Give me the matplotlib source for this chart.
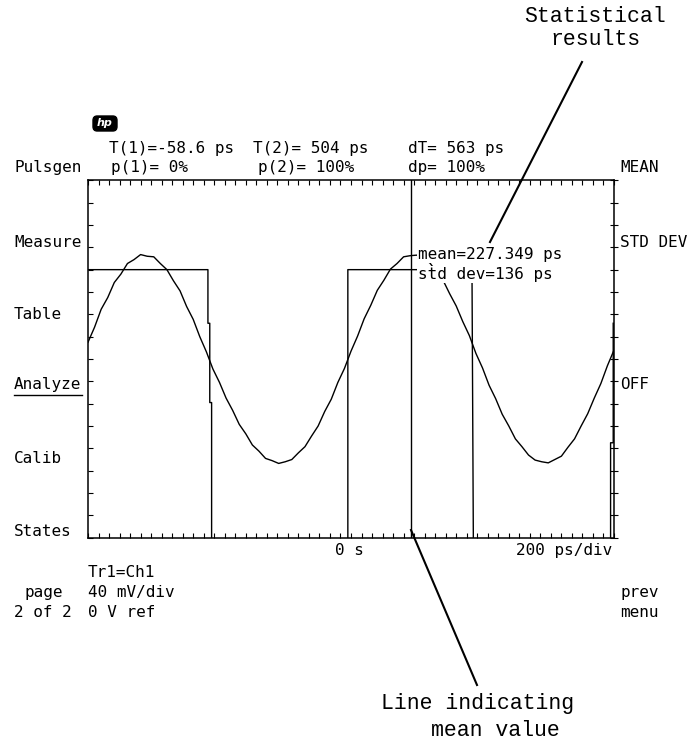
"""HP scope screen: clock waveform with histogram mean / std dev readout."""
import numpy as np
import matplotlib
matplotlib.use("Agg")
import matplotlib.pyplot as plt
from matplotlib.lines import Line2D
from matplotlib.patches import FancyBboxPatch

# ============ DATA ============
# time axis in ps (200 ps/div, 10 div), vertical in mV (40 mV/div, 8 div)
x_range = (-1000, 1000)
y_range = (-160, 160)

sine_t = np.arange(-1000, 1001, 25)
sine_mv = [
    15.0, 28.5, 44.5, 55.0, 68.5, 76.0, 85.5, 89.0, 93.5,
    92.0, 91.5, 85.5, 80.0, 70.0, 61.0, 47.0, 35.5, 20.0, 6.5,
    -9.0, -21.0, -35.0, -46.0, -58.5, -67.0, -77.0, -82.5, -89.0, -91.0, -93.5,
    -92.0, -90.0, -84.0, -78.5, -69.0, -60.0, -47.0, -36.0, -21.0, -8.5, 7.0,
    20.5, 36.0, 48.0, 61.5, 70.5, 80.5, 85.5, 91.5, 92.5,
    93.0, 89.5, 86.0, 78.0, 70.5, 58.5, 47.5, 33.5, 21.0, 5.0,
    -8.0, -23.5, -35.5, -49.5, -60.0, -71.5, -78.5, -86.0, -90.5, -92.0,
    -93.0, -90.0, -87.0, -79.0, -71.5, -60.0, -49.0, -35.0, -22.0, -6.0, 8.0,
]

# pulse trace (low level is below the screen)
pulse_t = [-1000, -544, -544, -537, -537, -530, -530, -12, -12, 460, 466, 987, 987, 997, 997]
pulse_mv = [80, 80, 32, 32, -39, -39, -200, -200, 80, 80, -200, -200, -75, -75, 32]

mean_ps = 227.349
std_ps = 136

top_row1 = [("T(1)=-58.6 ps", 109), ("T(2)= 504 ps", 253), ("dT= 563 ps", 408)]
top_row2 = [("p(1)= 0%", 111), ("p(2)= 100%", 258), ("dp= 100%", 408)]
left_menu = ["Pulsgen", "Measure", "Table", "Analyze", "Calib", "States"]
left_menu_y = [172, 247, 319, 389, 463, 536]
right_menu = ["MEAN", "STD DEV", "OFF"]
right_menu_y = [172, 247, 389]

W, H = 688, 744
MONO = "DejaVu Sans Mono"


def fx(x):
    return x / W


def fy(y):
    return 1 - y / H


def screen_text(x, y, s, ha="left", **kw):
    fig.text(fx(x), fy(y), s, ha=ha, va="baseline", family=MONO,
             fontsize=11.5, color="black", **kw)


fig = plt.figure(figsize=(W / 100, H / 100), dpi=100, facecolor="white")

# ============ SCREEN GRATICULE ============
ax = fig.add_axes([fx(88), fy(537.7), 526 / W, 357.4 / H])
ax.set_xlim(*x_range)
ax.set_ylim(*y_range)
ax.plot(sine_t, sine_mv, color="black", lw=1.0)
ax.plot(pulse_t, pulse_mv, color="black", lw=1.0)
ax.axvline(mean_ps, color="black", lw=1.0)

for sp in ax.spines.values():
    sp.set_linewidth(1.1)
ax.set_xticks(np.arange(-1000, 1001, 40))
ax.set_yticks(np.arange(-160, 161, 20))
ax.tick_params(axis="x", which="both", direction="in", top=True, bottom=True,
               length=3.6, width=0.8, labelbottom=False)
ax.tick_params(axis="y", which="both", direction="in", left=True, right=False,
               length=3.6, width=0.8, labelleft=False)
axr = ax.twinx()
axr.set_ylim(*y_range)
axr.set_yticks(np.arange(-160, 161, 20))
axr.tick_params(axis="y", direction="inout", length=6, width=0.8, labelright=False)
for sp in axr.spines.values():
    sp.set_visible(False)

# ============ SCREEN TEXT ============
logo = FancyBboxPatch((fx(93), fy(131)), 24 / W, 15 / H,
                      boxstyle="round,pad=0,rounding_size=0.006",
                      transform=fig.transFigure, fc="black", ec="black")
fig.patches.append(logo)
fig.text(fx(105), fy(123.5), "hp", color="white", style="italic",
         weight="bold", fontsize=8, ha="center", va="center")

for s, x in top_row1:
    screen_text(x, 153, s)
for s, x in top_row2:
    screen_text(x, 172, s)
for s, y in zip(left_menu, left_menu_y):
    screen_text(14, y, s)
fig.add_artist(Line2D([fx(14), fx(82)], [fy(395), fy(395)], color="black", lw=1.0))
for s, y in zip(right_menu, right_menu_y):
    screen_text(620, y, s)

bg = dict(facecolor="white", edgecolor="none", pad=1.0)
screen_text(418, 259, f"mean={mean_ps} ps", bbox=bg)
screen_text(418, 279, f"std dev={std_ps} ps", bbox=bg)

screen_text(335, 555, "0 s")
screen_text(612, 555, "200 ps/div", ha="right")
screen_text(88, 577, "Tr1=Ch1")
screen_text(24, 597, "page")
screen_text(88, 597, "40 mV/div")
screen_text(14, 617, "2 of 2")
screen_text(88, 617, "0 V ref")
screen_text(620, 597, "prev")
screen_text(620, 617, "menu")

# ============ CALLOUTS ============
ANNO = dict(family="Liberation Mono", fontsize=15.5, color="black",
            ha="center", va="baseline")
fig.text(fx(595), fy(22), "Statistical", **ANNO)
fig.text(fx(595), fy(45), "results", **ANNO)
fig.text(fx(478), fy(709), "Line indicating", **ANNO)
fig.text(fx(495), fy(736), "mean value", **ANNO)
fig.add_artist(Line2D([fx(582), fx(490)], [fy(62), fy(242)], color="black", lw=1.5))
fig.add_artist(Line2D([fx(411), fx(477)], [fy(530), fy(685)], color="black", lw=1.5))

fig.savefig("out.png", dpi=100, facecolor="white")
